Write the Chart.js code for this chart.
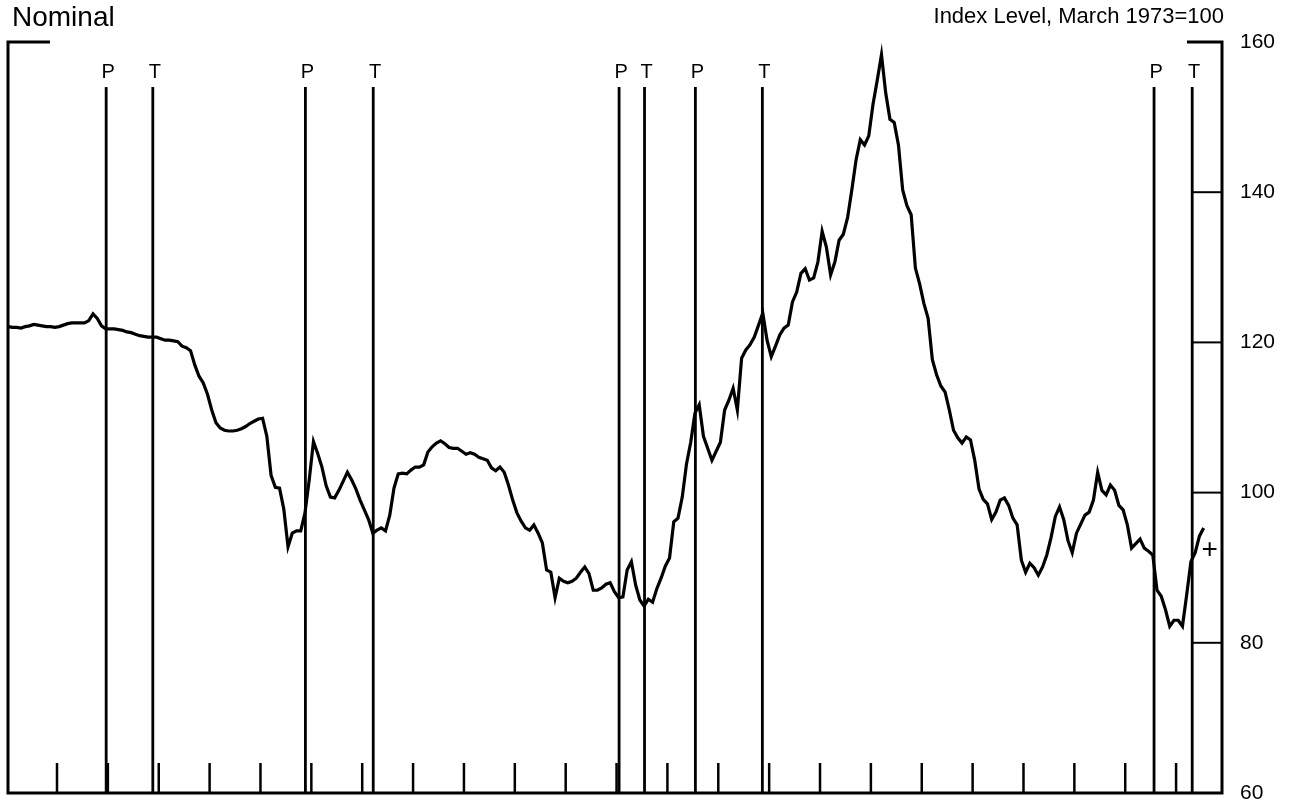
<!DOCTYPE html>
<html>
<head>
<meta charset="utf-8">
<script src="https://cdn.jsdelivr.net/npm/chart.js@4/dist/chart.umd.min.js"></script>
<style>
html,body{margin:0;padding:0;background:#fff;overflow:hidden;}
#c{display:block;}
</style>
</head>
<body>
<canvas id="c" width="1295" height="806"></canvas>
<script>
// Monthly index values, Jan 1968 .. Jul 1991 (March 1973 = 100)
const startYear = 1968;
const v1968 = [122.1,122.0,122.0,121.9,122.1,122.2,122.4,122.3,122.2,122.1,122.1,122.0];
const v1969 = [122.1,122.3,122.5,122.6,122.6,122.6,122.6,122.9,123.8,123.2,122.2,121.8];
const v1970 = [121.8,121.8,121.7,121.6,121.4,121.3,121.1,120.9,120.8,120.7,120.7,120.7];
const v1971 = [120.5,120.3,120.3,120.2,120.1,119.5,119.3,118.9,117.0,115.5,114.6,113.1];
const v1972 = [111.0,109.3,108.6,108.3,108.2,108.2,108.3,108.5,108.8,109.2,109.5,109.8];
const v1973 = [109.9,107.5,102.3,100.7,100.6,97.8,92.8,94.6,94.9,94.9,97.3,101.7];
const v1974 = [106.8,105.2,103.4,100.9,99.4,99.3,100.3,101.5,102.7,101.7,100.5,99.0];
const v1975 = [97.7,96.4,94.6,95.0,95.3,94.9,97.0,100.6,102.5,102.6,102.5,103.0];
const v1976 = [103.4,103.4,103.7,105.4,106.1,106.6,106.9,106.5,106.0,105.9,105.9,105.5];
const v1977 = [105.1,105.3,105.1,104.7,104.5,104.3,103.3,102.9,103.4,102.7,101.0,99.0];
const v1978 = [97.3,96.2,95.3,95.0,95.7,94.6,93.3,89.7,89.4,86.0,88.6,88.2];
const v1979 = [88.0,88.2,88.6,89.4,90.1,89.2,87.0,87.0,87.3,87.8,88.0,86.8];
const v1980 = [86.0,86.1,89.7,90.8,87.7,85.7,84.9,85.8,85.4,87.2,88.6,90.2];
const v1981 = [91.3,96.1,96.6,99.4,103.8,106.7,110.6,111.7,107.5,105.9,104.3,105.5];
const v1982 = [106.7,111.0,112.3,113.9,111.0,117.9,119.0,119.7,120.7,122.3,123.9,120.3];
const v1983 = [118.1,119.5,121.0,121.9,122.3,125.4,126.7,129.2,129.8,128.3,128.6,130.7];
const v1984 = [134.8,132.7,129.0,130.7,133.6,134.4,136.6,140.3,144.3,147.0,146.3,147.5];
const v1985 = [151.7,154.9,158.3,153.2,149.7,149.3,146.3,140.3,138.2,137.0,129.9,127.8];
const v1986 = [125.2,123.2,117.7,115.7,114.2,113.4,111.0,108.3,107.3,106.6,107.4,107.0];
const v1987 = [104.3,100.5,99.1,98.5,96.4,97.4,99.0,99.3,98.3,96.6,95.7,91.0];
const v1988 = [89.4,90.6,90.0,89.0,90.1,91.7,94.0,96.8,98.1,96.4,93.6,92.0];
const v1989 = [94.6,95.8,97.0,97.4,99.0,102.7,100.3,99.7,101.0,100.3,98.3,97.7];
const v1990 = [95.7,92.6,93.2,93.8,92.6,92.2,91.7,87.0,86.2,84.4,82.2,83.0];
const v1991 = [83.0,82.2,86.4,90.8,92.0,94.2,95.3];
const values = [].concat(v1968,v1969,v1970,v1971,v1972,v1973,v1974,v1975,v1976,v1977,
  v1978,v1979,v1980,v1981,v1982,v1983,v1984,v1985,v1986,v1987,v1988,v1989,v1990,v1991);

// Business cycle peaks (P) and troughs (T), months since Jan 1968
const turnLabels = ['P','T','P','T','P','T','P','T','P','T'];
const turnMonths = [23.6, 34.6, 70.6, 86.6, 144.6, 150.6, 162.6, 178.4, 270.8, 279.8];

// Year tick marks (January of each year)
const yearTicks = [];
for (let yr = 1969; yr <= 1991; yr++) yearTicks.push(yr);

// Value axis
const yMin = 60, yMax = 160, yStep = 20;

const titleLeft = 'Nominal';
const titleRight = 'Index Level, March 1973=100';
const FONT = "'Liberation Sans', Arial, Helvetica, sans-serif";

const framePlugin = {
  id: 'frame',
  afterDraw(chart) {
    const {ctx, chartArea, scales} = chart;
    const {left, right, top, bottom} = chartArea;
    const x = scales.x, y = scales.y;
    ctx.save();
    ctx.strokeStyle = '#000';
    ctx.fillStyle = '#000';
    ctx.lineCap = 'butt';

    // frame with corner brackets
    ctx.lineWidth = 3;
    ctx.beginPath();
    ctx.moveTo(left + 42, top); ctx.lineTo(left, top); ctx.lineTo(left, bottom);
    ctx.lineTo(right, bottom); ctx.lineTo(right, top); ctx.lineTo(right - 35, top);
    ctx.stroke();

    // value ticks pointing inward
    ctx.lineWidth = 2;
    for (let v = yMin + yStep; v < yMax; v += yStep) {
      const py = y.getPixelForValue(v);
      ctx.beginPath(); ctx.moveTo(right - 30, py); ctx.lineTo(right, py); ctx.stroke();
    }

    // year ticks pointing up
    ctx.lineWidth = 2.5;
    yearTicks.forEach(yr => {
      const px = x.getPixelForValue((yr - startYear) * 12);
      ctx.beginPath(); ctx.moveTo(px, bottom); ctx.lineTo(px, bottom - 30); ctx.stroke();
    });

    // peaks and troughs
    ctx.lineWidth = 2.8;
    ctx.font = '20px ' + FONT;
    ctx.textAlign = 'center';
    ctx.textBaseline = 'middle';
    turnMonths.forEach((m, i) => {
      const px = x.getPixelForValue(m);
      ctx.beginPath(); ctx.moveTo(px, 87); ctx.lineTo(px, bottom); ctx.stroke();
      ctx.fillText(turnLabels[i], px + 2, 72);
    });

    // latest-value marker
    ctx.font = '28px ' + FONT;
    ctx.fillText('+', x.getPixelForValue(283.9), y.getPixelForValue(92.3));

    // titles
    ctx.textAlign = 'left';
    ctx.font = '28px ' + FONT;
    ctx.fillText(titleLeft, 12, 18);
    ctx.textAlign = 'right';
    ctx.font = '22px ' + FONT;
    ctx.fillText(titleRight, right + 2, 17);
    ctx.restore();
  }
};

new Chart(document.getElementById('c').getContext('2d'), {
  type: 'line',
  data: {
    datasets: [{
      data: values.map((v, i) => ({x: i + 0.5, y: v})),
      borderColor: '#000', borderWidth: 3.2, pointRadius: 0, tension: 0, fill: false
    }]
  },
  options: {
    responsive: false, animation: false, devicePixelRatio: 1,
    layout: {padding: {left: 8, top: 42, bottom: 13, right: 0}},
    plugins: {legend: {display: false}, tooltip: {enabled: false}, title: {display: false}},
    scales: {
      x: {type: 'linear', min: 0.44, max: 286.83, display: false},
      y: {
        position: 'right', min: yMin, max: yMax,
        ticks: {stepSize: yStep, padding: 0, color: '#000', font: {family: FONT, size: 21}},
        grid: {display: true, drawOnChartArea: false, drawTicks: true, tickLength: 18, color: 'rgba(0,0,0,0)'},
        border: {display: false},
        afterFit(s) { s.width = 73; }
      }
    }
  },
  plugins: [framePlugin]
});
</script>
</body>
</html>
